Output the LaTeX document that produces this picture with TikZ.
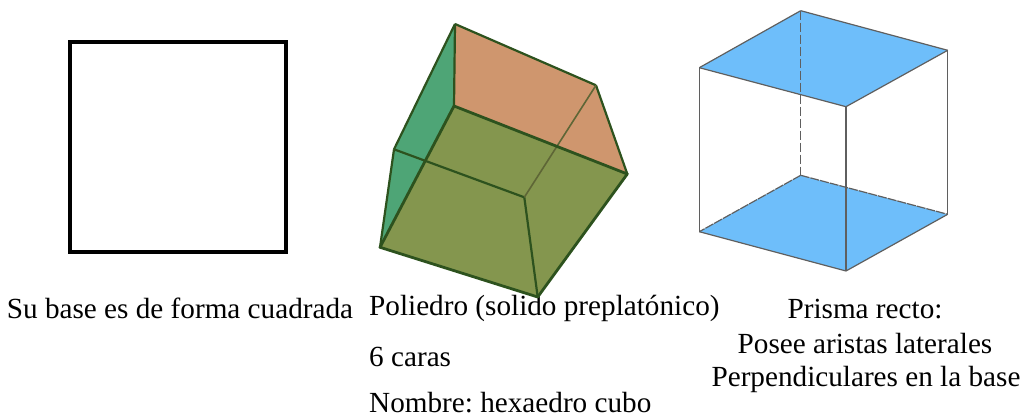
\documentclass[tikz,border=0pt]{standalone}
\usepackage{fontspec}
\setmainfont{Liberation Serif}
\definecolor{caraverde}{RGB}{78,165,118}
\definecolor{caranaranja}{RGB}{207,150,110}
\definecolor{caraoliva}{RGB}{132,150,78}
\definecolor{aristacubo}{RGB}{45,82,30}
\definecolor{caraazul}{RGB}{110,190,250}
\definecolor{aristaprisma}{RGB}{95,95,95}
\tikzset{
    texto/.style={anchor=base,inner sep=0pt,font=\fontsize{29.2}{34}\selectfont\frenchspacing},
    arista/.style={draw=aristacubo,line width=2.2pt,line join=round},
    lado/.style={draw=aristaprisma,line width=1.2pt},
}
\begin{document}
\begin{tikzpicture}[x=1pt,y=-1pt]
\useasboundingbox (0,0) rectangle (1024,419);
% textos
\node[texto] (base) at (180,318) {Su base es de forma cuadrada};
\node[texto,anchor=base west] (poliedro) at (369,316) {Poliedro (solido preplatónico)};
\node[texto,anchor=base west] (caras) at (369,366) {6 caras};
\node[texto,anchor=base west] (nombre) at (369,412) {Nombre: hexaedro cubo};
\node[texto] (prisma) at (865,318) {Prisma recto:};
\node[texto] (aristas) at (865,353) {Posee aristas laterales};
\node[texto] (perpen) at (866,386) {Perpendiculares en la base};
% cuadrado
\node[draw=black,line width=3.5pt,minimum width=216pt,minimum height=210pt,inner sep=0pt] (cuadro) at (178,147) {};
% hexaedro
\foreach \n/\x/\y in {a/455/24,b/596/85.3,c/627.3/174,d/537.7/297,e/380/247.3,f/394/149.3,g/454/106,h/524.3/197.3} {%
    \coordinate (\n) at (\x,\y);
}
\fill[caraverde] (a) -- (f) -- (e) -- (g) -- cycle;
\fill[caranaranja] (a) -- (b) -- (c) -- (g) -- cycle;
\fill[caraoliva] (g) -- (c) -- (d) -- (e) -- cycle;
\foreach \p/\q in {a/b,b/c,a/g,a/f,f/e,f/h,h/d} {%
    \draw[arista] (\p) -- (\q);
}
\draw[arista,draw=aristacubo!70!caranaranja,line width=1.6pt] (b) -- (h);
\draw[arista,line width=2.8pt] (g) -- (c) -- (d) -- (e) -- cycle;
% prisma
\foreach \n/\x/\y in {ta/800.7/10.7,tb/947.7/50.3,tc/846/106.7,td/699.3/67.7,ba/800.7/175.3,bb/947.7/214.3,bc/846/271,bd/699.3/231.7} {%
    \coordinate (\n) at (\x,\y);
}
\fill[caraazul] (ta) -- (tb) -- (tc) -- (td) -- cycle;
\fill[caraazul] (ba) -- (bb) -- (bc) -- (bd) -- cycle;
\foreach \p/\q in {ta/tb,tb/tc,tc/td,td/ta,bb/bc,bc/bd,td/bd,tb/bb,tc/bc} {%
    \draw[lado] (\p) -- (\q);
}
\draw[lado,dash pattern=on 9pt off 3pt] (ta) -- (ba);
\draw[lado,dash pattern=on 9pt off 1pt] (ba) -- (bb);
\draw[lado,dash pattern=on 9pt off 1pt] (ba) -- (bd);
\end{tikzpicture}
\end{document}
